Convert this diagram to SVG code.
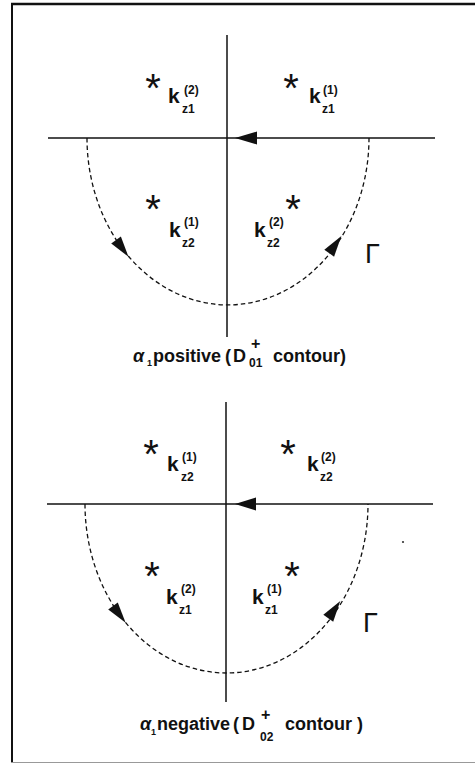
<svg xmlns="http://www.w3.org/2000/svg" width="475" height="764" viewBox="0 0 475 764">
<style>
  .ax{stroke:#111;stroke-width:1.5;fill:none}
  .arc{stroke:#111;stroke-width:1.3;fill:none;stroke-dasharray:4.5 3}
  .ah{fill:#111}
  text{font-family:"Liberation Sans",Arial,sans-serif;fill:#111}
  .k{font-size:21px;font-weight:bold}
  .s{font-size:12px;font-weight:bold}
  .st{font-size:40px;text-anchor:middle}
  .cap{font-size:18px;font-weight:bold}
  .gam{font-size:27px}
</style>
<rect width="475" height="764" fill="#fff"/>
<g id="frame">
  <line x1="11" y1="4" x2="475" y2="4" stroke="#111" stroke-width="2.5"/>
  <line x1="12" y1="3" x2="12" y2="763" stroke="#111" stroke-width="2"/>
  <line x1="11" y1="762.5" x2="475" y2="762.5" stroke="#999" stroke-width="1"/>
</g>
<g id="connectors">
  <!-- top panel -->
  <line class="ax" x1="227" y1="35" x2="227" y2="337"/>
  <line class="ax" x1="48" y1="138" x2="435" y2="138"/>
  <polygon class="ah" points="235,138 257,131.5 257,144.5"/>
  <path class="arc" d="M 87 138 A 141 167 0 0 0 369 138"/>
  <polygon class="ah" points="11,0 -10,-6 -10,6" transform="translate(122,248) rotate(53.5)"/>
  <polygon class="ah" points="11,0 -10,-6 -10,6" transform="translate(335,245) rotate(-54.5)"/>
  <!-- bottom panel -->
  <line class="ax" x1="226" y1="402" x2="226" y2="702"/>
  <line class="ax" x1="47" y1="504" x2="433" y2="504"/>
  <polygon class="ah" points="235,504 256,497.5 256,510.5"/>
  <path class="arc" d="M 85 504 A 141.5 169 0 0 0 368 504"/>
  <polygon class="ah" points="11,0 -10,-6 -10,6" transform="translate(119,614) rotate(53)"/>
  <polygon class="ah" points="11,0 -10,-6 -10,6" transform="translate(334,610) rotate(-55)"/>
</g>
<g id="top-tl">
  <text class="st" x="153" y="102">*</text>
  <text class="k" x="168" y="103">k</text>
  <text class="s" x="184" y="94">(2)</text>
  <text class="s" x="182" y="113">z1</text>
</g>
<g id="top-tr">
  <text class="st" x="291" y="102">*</text>
  <text class="k" x="309" y="103">k</text>
  <text class="s" x="323" y="94">(1)</text>
  <text class="s" x="322" y="113">z1</text>
</g>
<g id="top-ll">
  <text class="st" x="153" y="223">*</text>
  <text class="k" x="169" y="237">k</text>
  <text class="s" x="184" y="226">(1)</text>
  <text class="s" x="182" y="247">z2</text>
</g>
<g id="top-lr">
  <text class="st" x="293" y="223">*</text>
  <text class="k" x="254" y="237">k</text>
  <text class="s" x="269" y="226">(2)</text>
  <text class="s" x="267" y="247">z2</text>
</g>
<g id="top-gamma">
  <text class="gam" x="365" y="263">Γ</text>
</g>
<g id="top-caption">
  <text class="cap" y="362"><tspan x="133" font-style="italic">α</tspan><tspan x="147" y="366" font-size="9">1</tspan><tspan x="153" y="362">positive</tspan><tspan x="225">(</tspan><tspan x="233">D</tspan><tspan x="251" y="349" font-size="16">+</tspan><tspan x="249" y="367" font-size="12">01</tspan><tspan x="273" y="362">contour)</tspan></text>
</g>
<g id="bot-tl">
  <text class="st" x="151" y="468">*</text>
  <text class="k" x="167" y="471">k</text>
  <text class="s" x="182" y="461">(1)</text>
  <text class="s" x="181" y="481">z2</text>
</g>
<g id="bot-tr">
  <text class="st" x="288" y="468">*</text>
  <text class="k" x="307" y="471">k</text>
  <text class="s" x="321" y="461">(2)</text>
  <text class="s" x="320" y="481">z2</text>
</g>
<g id="bot-ll">
  <text class="st" x="152" y="590">*</text>
  <text class="k" x="166" y="604">k</text>
  <text class="s" x="181" y="593">(2)</text>
  <text class="s" x="179" y="614">z1</text>
</g>
<g id="bot-lr">
  <text class="st" x="292" y="590">*</text>
  <text class="k" x="252" y="604">k</text>
  <text class="s" x="267" y="593">(1)</text>
  <text class="s" x="265" y="614">z1</text>
</g>
<g id="bot-gamma">
  <text class="gam" x="363" y="632">Γ</text>
  <circle cx="403" cy="542" r="1.1" fill="#333"/>
</g>
<g id="bot-caption">
  <text class="cap" y="730"><tspan x="140" font-style="italic">α</tspan><tspan x="151" y="735" font-size="9">1</tspan><tspan x="157" y="730">negative</tspan><tspan x="233">(</tspan><tspan x="242">D</tspan><tspan x="261" y="720" font-size="16">+</tspan><tspan x="260" y="741" font-size="12">02</tspan><tspan x="285" y="730">contour</tspan><tspan x="357">)</tspan></text>
</g>
</svg>
